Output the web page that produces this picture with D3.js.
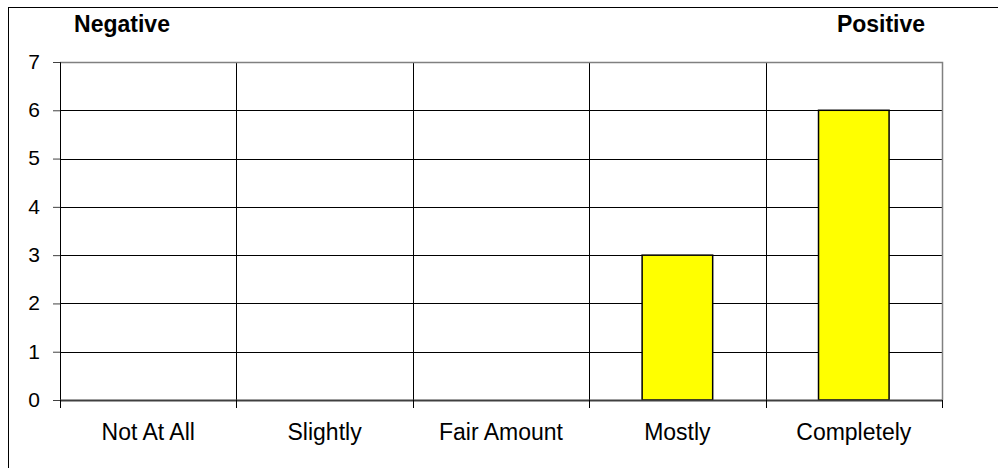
<!DOCTYPE html>
<html>
<head>
<meta charset="utf-8">
<script src="https://cdn.jsdelivr.net/npm/d3@7"></script>
<style>
	body { margin: 0; background: #fff; }
	svg text { font-family: "Liberation Sans", Arial, sans-serif; fill: #000; }
</style>
</head>
<body>
<div id="chart"></div>
<script>
var categories = ["Not At All", "Slightly", "Fair Amount", "Mostly", "Completely"];
var values = [0, 0, 0, 3, 6];
var yTicks = [0, 1, 2, 3, 4, 5, 6, 7];
var endLabels = ["Negative", "Positive"];

var width = 998,
	height = 468;

var margin = { top: 62, right: 56, bottom: 68, left: 60 };
var chart_width = width - (margin.left + margin.right);
var chart_height = height - (margin.top + margin.bottom);

var svg = d3.select("#chart").append("svg")
	.attr("width", width)
	.attr("height", height);

// outer chart frame, cut off on the right and bottom
svg.append("rect")
	.attr("x", 8.5)
	.attr("y", 7.5)
	.attr("width", 1200)
	.attr("height", 1200)
	.style("fill", "none")
	.style("stroke", "#000");

var xScale = d3.scaleBand().domain(categories).range([0, chart_width]);
var yScale = d3.scaleLinear().domain([0, 7]).range([chart_height, 0]);

var g = svg.append("g").attr("transform", "translate(" + margin.left + "," + margin.top + ")");

// horizontal gridlines
g.selectAll(".hgrid")
	.data(yTicks.slice(1, -1))
	.enter()
	.append("line")
	.attr("x1", 0)
	.attr("x2", chart_width)
	.attr("y1", function(d) { return Math.round(yScale(d)) + 0.5; })
	.attr("y2", function(d) { return Math.round(yScale(d)) + 0.5; })
	.style("stroke", "#000");

// vertical gridlines at category boundaries
g.selectAll(".vgrid")
	.data(categories.slice(1))
	.enter()
	.append("line")
	.attr("x1", function(d) { return Math.round(xScale(d)) + 0.5; })
	.attr("x2", function(d) { return Math.round(xScale(d)) + 0.5; })
	.attr("y1", 0)
	.attr("y2", chart_height)
	.style("stroke", "#000");

// plot area border top + right (grey)
g.append("path")
	.attr("d", "M0,0.5H" + (chart_width + 0.5) + "V" + chart_height)
	.style("fill", "none")
	.style("stroke", "#808080")
	.style("stroke-width", 1.5);

// bars
var barWidth = xScale.bandwidth() * 0.4;
g.selectAll(".bar")
	.data(values)
	.enter()
	.filter(function(d) { return d > 0; })
	.append("rect")
	.attr("class", "bar")
	.attr("x", function(d) {
		var c = categories[values.indexOf(d)];
		return xScale(c) + (xScale.bandwidth() - barWidth) / 2;
	})
	.attr("y", function(d) { return yScale(d); })
	.attr("width", barWidth)
	.attr("height", function(d) { return chart_height - yScale(d); })
	.style("fill", "#ffff00")
	.style("stroke", "#000")
	.style("stroke-width", 1.5);

// y axis
var yAxis = d3.axisLeft(yScale).tickValues(yTicks).tickFormat(d3.format("d")).tickSize(7).tickPadding(13);
var yg = g.append("g").attr("class", "y axis").call(yAxis);
yg.select(".domain").style("stroke", "#000");
yg.selectAll(".tick line").style("stroke", "#404040");
yg.selectAll(".tick text")
	.attr("dy", "0.3em")
	.style("font-size", "21px")
	.style("font-family", "Liberation Sans, Arial, sans-serif");

// x axis: ticks at category boundaries, labels centered
var boundaries = [0].concat(categories.map(function(c) { return xScale(c) + xScale.bandwidth(); }));
var xg = g.append("g").attr("transform", "translate(0," + chart_height + ")");
xg.append("line")
	.attr("x1", 0)
	.attr("x2", chart_width)
	.attr("y1", 0.5)
	.attr("y2", 0.5)
	.style("stroke", "#404040")
	.style("stroke-width", 2);
xg.selectAll(".xtick")
	.data(boundaries)
	.enter()
	.append("line")
	.attr("x1", function(d) { return Math.round(d) + 0.5; })
	.attr("x2", function(d) { return Math.round(d) + 0.5; })
	.attr("y1", 0)
	.attr("y2", 8)
	.style("stroke", "#000");
xg.selectAll(".xlabel")
	.data(categories)
	.enter()
	.append("text")
	.attr("x", function(d) { return xScale(d) + xScale.bandwidth() / 2; })
	.attr("y", 40)
	.attr("text-anchor", "middle")
	.style("font-size", "23px")
	.text(function(d) { return d; });

// end labels
svg.selectAll(".endlabel")
	.data(endLabels)
	.enter()
	.append("text")
	.attr("x", function(d, i) { return i == 0 ? 122 : 881; })
	.attr("y", 32)
	.attr("text-anchor", "middle")
	.style("font-size", "23px")
	.style("font-weight", "bold")
	.text(function(d) { return d; });
</script>
</body>
</html>
